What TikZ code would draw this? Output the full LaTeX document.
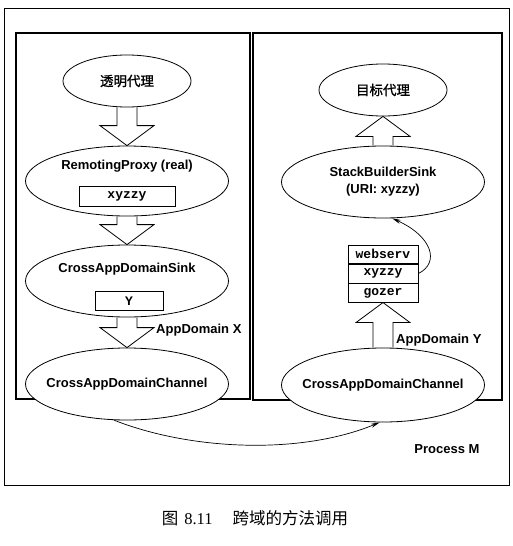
\documentclass[tikz,border=0pt]{standalone}
\usepackage{fontspec}
\setmainfont{Liberation Serif}
\newfontfamily\lab{Liberation Sans}
\newfontfamily\mono{Liberation Mono}
\newfontfamily\cjk{Noto Sans CJK SC}
\newfontfamily\cjkb{Noto Sans CJK SC}[FakeBold=1.2]
\usepackage{tikz}
\usetikzlibrary{positioning, arrows.meta, shapes.geometric, calc}

% hollow block arrow: shaft base #1, tip #2
\newcommand{\fatarrow}[2]{%
  \draw[fat] let \p1=(#1), \p2=(#2), \p3=($(#2)!20pt!(#1)$) in
    (\x1-10pt,\y1) -- (\x1-10pt,\y3) -- (\x1-27pt,\y3) -- (\x2,\y2)
    -- (\x1+27pt,\y3) -- (\x1+10pt,\y3) -- (\x1+10pt,\y1);}

\begin{document}
\begin{tikzpicture}[x=1pt, y=-1pt,
    font=\lab\bfseries\fontsize{13}{17}\selectfont,
    sinkbubble/.style={ellipse, draw, fill=white, line width=0.8pt, inner sep=0pt},
    proxyname/.style={font=\cjkb\fontsize{13.5}{15}\selectfont},
    field/.style={draw, line width=0.6pt, inner sep=0pt,
                  font=\mono\bfseries\fontsize{13}{14}\selectfont},
    panel/.style={draw, line width=1.3pt},
    fat/.style={draw, line width=0.8pt},
    flow/.style={-{Stealth[length=9pt,width=4pt]}, line width=0.7pt}]
    \useasboundingbox (0,0) rectangle (513,546);

    % Process M and the two AppDomains
    \draw[line width=1pt] (4,8) rectangle (509,485);
    \draw[panel] (16,33) rectangle (250,399);
    \draw[panel] (253,33) rectangle (502,400);

    % AppDomain X
    \node[sinkbubble, proxyname, minimum width=128, minimum height=52] (tp) at (127,81) {透明代理};
    \node[sinkbubble, minimum width=203, minimum height=70] (rp) at (127,181) {};
    \node (rpname) at (127,166) {RemotingProxy (real)};
    \node[field, minimum width=96, minimum height=20] (rpuri) at (127,196) {xyzzy};
    \node[sinkbubble, minimum width=203, minimum height=72] (cs) at (127,281) {};
    \node (csname) at (127,269) {CrossAppDomainSink};
    \node[field, minimum width=68, minimum height=19] (csid) at (129,301) {Y};
    \node[sinkbubble, minimum width=203, minimum height=72,
          label=center:CrossAppDomainChannel] (chx) at (127,384) {};
    \node[anchor=east] (adx) at (245,330) {AppDomain X};

    % AppDomain Y
    \node[sinkbubble, proxyname, minimum width=128, minimum height=52] (tg) at (383,90) {目标代理};
    \node[sinkbubble, align=center, minimum width=203, minimum height=72] (sbs) at (383,182) {StackBuilderSink\\(URI: xyzzy)};
    \node[field, minimum width=70, minimum height=18.7] (ws) at (383,254.3) {webserv};
    \node[field, minimum width=70, minimum height=18.7, below=0pt of ws] (xy) {xyzzy};
    \node[field, minimum width=70, minimum height=18.7, below=0pt of xy] (gz) {gozer};
    \node[sinkbubble, minimum width=203, minimum height=74,
          label=center:CrossAppDomainChannel] (chy) at (383,385) {};
    \node[anchor=east] (ady) at (485,340) {AppDomain Y};

    \node[anchor=east] (pm) at (483,449) {Process M};

    % block arrows
    \fatarrow{tp.south}{rp.north}
    \fatarrow{rp.south}{cs.north}
    \fatarrow{cs.south}{chx.north}
    \fatarrow{chy.north}{gz.south}
    \fatarrow{sbs.north}{tg.south}

    % channel to channel, and lookup back to the sink
    \draw[flow] (chx.-110) .. controls +(76,30) and +(-80,33) .. (chy.-95);
    \draw[flow] (xy.east) .. controls +(22,-11) and +(40,18) .. (sbs.-76);

    % caption
    \node (cap) at (255,518) {\cjk\mdseries\fontsize{16.5}{18}\selectfont 图\hspace{6pt}{\rmfamily 8.11}\hspace{20pt}跨域的方法调用};
\end{tikzpicture}
\end{document}
